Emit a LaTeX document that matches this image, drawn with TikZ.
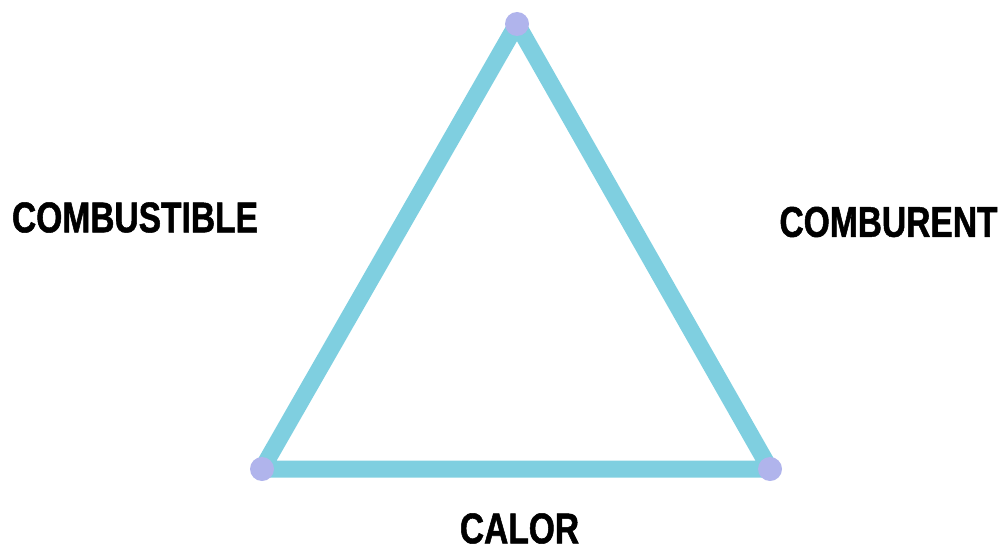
\documentclass[tikz,border=0pt]{standalone}
\usepackage{fontspec}
\setmainfont{Liberation Sans}[FakeStretch=0.78]
\newfontfamily\lblfont{Liberation Sans}[FakeStretch=0.78,BoldFeatures={FakeBold=1.2}]
\definecolor{edgecol}{HTML}{7FCFE0}
\definecolor{dotcol}{HTML}{B0B4EC}
\begin{document}
\begin{tikzpicture}[x=1pt,y=-1pt,
  edge/.style={draw=edgecol,line width=17pt,line join=round},
  vdot/.style={circle,fill=dotcol,minimum size=24pt,inner sep=0pt},
  lbl/.style={inner sep=0pt,font=\lblfont\fontsize{43}{43}\selectfont\bfseries,text=black}]
\useasboundingbox (0,0) rectangle (1008,548);
\coordinate (top) at (517,24);
\coordinate (bl) at (262,469);
\coordinate (br) at (770,469);
\draw[edge] (top) -- (bl) -- (br) -- cycle;
\node[vdot] (ntop) at (top) {};
\node[vdot] (nbl) at (bl) {};
\node[vdot] (nbr) at (br) {};
\node[lbl] (comb) at (135,217.5) {COMBUSTIBLE};
\node[lbl] (combu) at (888.5,222) {COMBURENT};
\node[lbl] (calor) at (519.5,528.5) {CALOR};
\end{tikzpicture}
\end{document}
